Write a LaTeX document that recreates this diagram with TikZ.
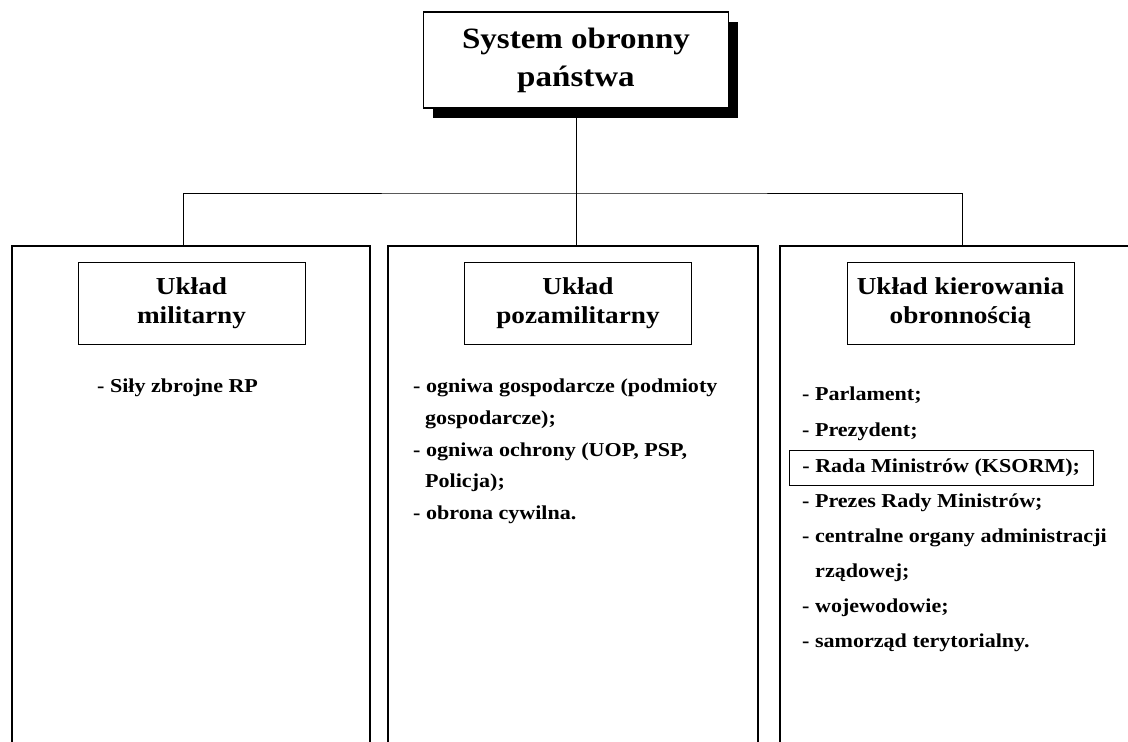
\documentclass[tikz,border=0pt]{standalone}
\usepackage{fontspec}
\setmainfont{Liberation Serif}[FakeStretch=1.12]
\usetikzlibrary{positioning,shadows}

\tikzset{
  title/.style={draw, line width=1.4pt, fill=white, minimum width=305pt,
    minimum height=96pt, align=center,
    drop shadow={shadow xshift=9pt, shadow yshift=-10pt, fill=black, opacity=1},
    font=\bfseries\fontsize{29.5}{38}\selectfont},
  head/.style={draw, line width=1pt, minimum width=227pt, minimum height=82pt,
    align=center, font=\bfseries\fontsize{24.3}{29}\selectfont},
  item/.style={anchor=west, inner sep=0pt, text height=13pt, text depth=4pt,
    font=\bfseries\fontsize{19.7}{22}\selectfont},
  col/.style={line width=1.4pt},
  link/.style={line width=1pt}
}

\begin{document}
\begin{tikzpicture}[x=1pt,y=-1pt]
  \useasboundingbox (0,0) rectangle (1128,742);

  % system
  \node[title] (sys) at (576,60) {System obronny\\państwa};

  % kolumny
  \draw[col] (12,742) |- (370,246) -- (370,742);
  \draw[col] (388,742) |- (758,246) -- (758,742);
  \draw[col] (780,742) |- (1128,246);

  % polaczenia
  \coordinate (c1) at (183,246);
  \coordinate (c2) at (576,246);
  \coordinate (c3) at (962,246);
  \coordinate (bar) at (576,193);
  \draw[link] (sys) -- (c2);
  \draw[link] (c1) |- (bar) -| (c3);

  % naglowki
  \node[head] (mil) at (191.5,303) {Układ\\militarny};
  \node[head] (poz) at (578,303) {Układ\\pozamilitarny};
  \node[head] (kier) at (960.5,303) {Układ kierowania\\obronnością};

  % uklad militarny
  \node[item] (m1) at (97,388) {- Siły zbrojne RP};

  % uklad pozamilitarny
  \foreach \txt/\x/\y [count=\i] in {
      {- ogniwa gospodarcze (podmioty}/413/388,
      {gospodarcze);}/425/420,
      {- ogniwa ochrony (UOP, PSP,}/413/452,
      {Policja);}/425/483,
      {- obrona cywilna.}/413/515}
    \node[item] (p\i) at (\x,\y) {\txt};

  % uklad kierowania
  \node[item] (k1) at (802,396) {- Parlament;};
  \node[item] (k2) at (802,432) {- Prezydent;};
  \node[item, draw, line width=0.8pt, inner xsep=13pt, minimum height=35pt,
    anchor=west] (k3) at (789,468) {- Rada Ministrów (KSORM);};
  \foreach \txt/\x/\y [count=\i from 4] in {
      {- Prezes Rady Ministrów;}/802/503,
      {- centralne organy administracji}/802/538,
      {rządowej;}/815/573,
      {- wojewodowie;}/802/608,
      {- samorząd terytorialny.}/802/643}
    \node[item] (k\i) at (\x,\y) {\txt};
\end{tikzpicture}
\end{document}
